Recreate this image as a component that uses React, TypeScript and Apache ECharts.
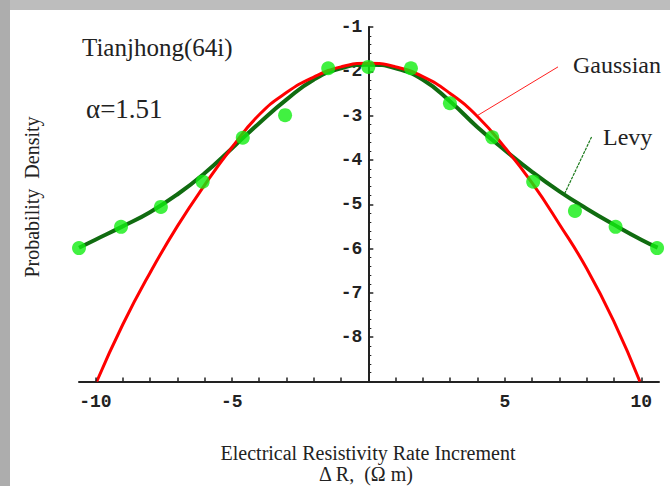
import React, { useEffect, useRef } from "react";
import * as echarts from "echarts";

// Gaussian fit curve
const gaussX = [-9.95, -9, -8, -7, -6, -5, -4, -3, -2, -1, 0, 1, 2, 3, 4, 5, 6, 7, 8, 9, 9.95];
const gaussY = [-9.0, -7.72, -6.55, -5.5, -4.57, -3.72, -2.98, -2.48, -2.13, -1.9, -1.82, -1.9, -2.12, -2.5, -3.02, -3.72, -4.52, -5.45, -6.45, -7.65, -9.0];

// Levy fit curve
const levyX = [-10.6, -10, -9, -8, -7, -6, -5, -4, -3, -2, -1, 0, 1, 2, 3, 4, 5, 6, 7, 8, 9, 10, 10.6];
const levyY = [-5.98, -5.8, -5.5, -5.18, -4.78, -4.3, -3.74, -3.17, -2.64, -2.19, -1.93, -1.85, -1.93, -2.19, -2.68, -3.26, -3.78, -4.27, -4.71, -5.1, -5.46, -5.8, -5.98];

// Observed data points
const dataX = [-10.6, -9.06, -7.6, -6.07, -4.6, -3.05, -1.47, 0, 1.56, 2.99, 4.54, 6.04, 7.57, 9.06, 10.58];
const dataY = [-5.99, -5.51, -5.06, -4.49, -3.5, -2.99, -1.93, -1.9, -1.93, -2.72, -3.49, -4.49, -5.15, -5.51, -5.99];

// Tick values
const xTickValues = [-10, -9, -8, -7, -6, -5, -4, -3, -2, -1, 1, 2, 3, 4, 5, 6, 7, 8, 9, 10];
const xLabelValues = [-10, -5, 5, 10];
const yLabelValues = [-8, -7, -6, -5, -4, -3, -2, -1];
const Y_MIN = -9;
const Y_MAX = -1;
const X_TICK_LEN = 0.09; // in y units

// Annotation pointer segments (data coordinates)
const gaussPointer = [[6.95, -1.9], [4.02, -2.99]];
const levyPointer = [[8.18, -3.48], [7.2, -4.75]];

const serif = '"Liberation Serif", "Times New Roman", serif';
const mono = '"Liberation Mono", "Courier New", monospace';

const X_MIN = -10.6;
const X_MAX = 10.65;
const GRID_LEFT = 79;
const GRID_WIDTH = 580;

export default function App() {
  const ref = useRef<HTMLDivElement>(null);
  useEffect(() => {
    if (!ref.current) return;
    const chart = echarts.init(ref.current, null, { renderer: "svg" });
    const zip = (xs: number[], ys: number[]) => xs.map((x, i) => [x, ys[i]]);
    // place the y axis at x = 0 of the x scale
    const yAxisOffset = -(GRID_WIDTH * (0 - X_MIN)) / (X_MAX - X_MIN);
    const tickLines = xTickValues.map((v) => [
      { coord: [v, Y_MIN], lineStyle: { color: "#222", width: 1.5, type: "solid" } },
      { coord: [v, Y_MIN + X_TICK_LEN] },
    ]);
    chart.setOption({
      animation: false,
      backgroundColor: "#bdbdbd",
      grid: {
        left: GRID_LEFT,
        top: 27,
        width: GRID_WIDTH,
        height: 354.5,
        outerBoundsMode: "none",
        containLabel: false,
      },
      xAxis: {
        type: "value",
        min: X_MIN,
        max: X_MAX,
        splitLine: { show: false },
        axisLine: { onZero: false, lineStyle: { color: "#222", width: 2 } },
        axisTick: { show: false },
        axisLabel: {
          customValues: xLabelValues,
          margin: 11,
          fontFamily: mono,
          fontSize: 18,
          fontWeight: "bold",
          color: "#222",
          formatter: (v: number) => String(v),
        },
      },
      yAxis: {
        type: "value",
        min: Y_MIN,
        max: Y_MAX,
        interval: 1,
        offset: yAxisOffset,
        splitLine: { show: false },
        axisLine: { onZero: false, lineStyle: { color: "#222", width: 2 } },
        axisTick: {
          show: true,
          inside: true,
          length: 5,
          lineStyle: { color: "#222", width: 1.5 },
        },
        minorTick: {
          show: true,
          splitNumber: 5,
          length: 3,
          lineStyle: { color: "#222", width: 1 },
        },
        axisLabel: {
          customValues: yLabelValues,
          margin: 6,
          fontFamily: mono,
          fontSize: 18,
          fontWeight: "bold",
          color: "#222",
          formatter: (v: number) => String(v),
        },
      },
      series: [
        {
          name: "Levy",
          type: "line",
          data: zip(levyX, levyY),
          smooth: true,
          showSymbol: false,
          lineStyle: { color: "#106c10", width: 4 },
          z: 2,
          markLine: {
            silent: true,
            symbol: ["none", "none"],
            label: { show: false },
            lineStyle: { color: "#1b7a1b", width: 1.2, type: [3, 1] },
            data: [
              [{ coord: levyPointer[0] }, { coord: levyPointer[1] }],
              ...tickLines,
            ],
          },
        },
        {
          name: "Gaussian",
          type: "line",
          data: zip(gaussX, gaussY),
          smooth: true,
          showSymbol: false,
          lineStyle: { color: "#ff0000", width: 3 },
          z: 3,
          markLine: {
            silent: true,
            symbol: ["none", "none"],
            label: { show: false },
            lineStyle: { color: "#ff2020", width: 1, type: "solid" },
            data: [[{ coord: gaussPointer[0] }, { coord: gaussPointer[1] }]],
          },
        },
        {
          name: "Data",
          type: "scatter",
          data: zip(dataX, dataY),
          symbol: "circle",
          symbolSize: 14,
          clip: false,
          itemStyle: { color: "#12ee12" },
          z: 4,
        },
      ],
      graphic: [
        { type: "rect", z: -10, silent: true, shape: { x: 0, y: 0, width: 10, height: 486 }, style: { fill: "#adadad" } },
        { type: "rect", z: -10, silent: true, shape: { x: 10, y: 10, width: 660, height: 476 }, style: { fill: "#ffffff" } },
        {
          type: "text", z: 10, silent: true,
          style: { x: 82, y: 47, text: "Tianjhong(64i)", font: `25px ${serif}`, fill: "#222", verticalAlign: "middle" },
        },
        {
          type: "text", z: 10, silent: true,
          style: { x: 86, y: 109, text: "α=1.51", font: `27px ${serif}`, fill: "#222", verticalAlign: "middle" },
        },
        {
          type: "text", z: 10, silent: true,
          style: { x: 573, y: 65, text: "Gaussian", font: `24px ${serif}`, fill: "#222", verticalAlign: "middle" },
        },
        {
          type: "text", z: 10, silent: true,
          style: { x: 603, y: 137, text: "Levy", font: `24px ${serif}`, fill: "#222", verticalAlign: "middle" },
        },
        {
          type: "text", z: 10, silent: true,
          x: 32, y: 197, rotation: Math.PI / 2,
          style: { x: 0, y: 0, text: "Probability  Density", font: `20px ${serif}`, fill: "#222", align: "center", verticalAlign: "middle" },
        },
        {
          type: "text", z: 10, silent: true,
          style: { x: 368, y: 453, text: "Electrical Resistivity Rate Increment", font: `20px ${serif}`, fill: "#222", align: "center", verticalAlign: "middle" },
        },
        {
          type: "text", z: 10, silent: true,
          style: { x: 366, y: 474, text: "Δ R,  (Ω m)", font: `20px ${serif}`, fill: "#222", align: "center", verticalAlign: "middle" },
        },
      ],
    });
    return () => chart.dispose();
  }, []);
  return (
    <div
      ref={ref}
      style={{ position: "fixed", left: 0, top: 0, width: 670, height: 486 }}
    />
  );
}
